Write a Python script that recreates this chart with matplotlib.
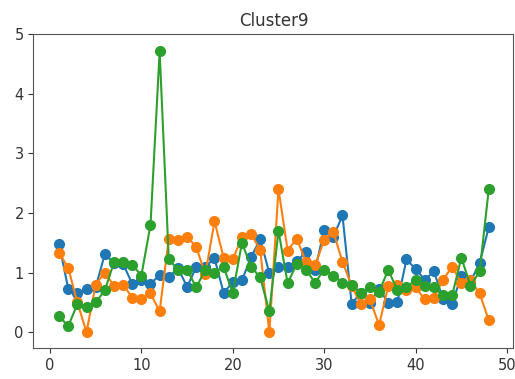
import numpy as np
import matplotlib
matplotlib.use("Agg")
import matplotlib.pyplot as plt

# values per position for the three series
x = np.arange(1, 49)
blue = [1.48, 0.73, 0.65, 0.73, 0.75, 1.31, 1.16, 1.15, 0.81, 0.88,
        0.81, 0.96, 0.92, 1.08, 0.76, 1.09, 1.10, 1.24, 0.66, 0.84,
        0.87, 1.26, 1.56, 0.99, 1.09, 1.09, 1.19, 1.34, 1.04, 1.72,
        1.60, 1.96, 0.48, 0.66, 0.49, 0.73, 0.49, 0.50, 1.22, 1.06,
        0.88, 1.02, 0.56, 0.48, 0.95, 0.85, 1.16, 1.76]
orange = [1.33, 1.08, 0.50, 0.00, 0.80, 1.00, 0.78, 0.80, 0.58, 0.55,
          0.65, 0.35, 1.57, 1.55, 1.60, 1.43, 0.97, 1.86, 1.25, 1.22,
          1.60, 1.65, 1.38, 0.00, 2.40, 1.37, 1.57, 1.18, 1.12, 1.55,
          1.68, 1.18, 0.78, 0.47, 0.55, 0.12, 0.77, 0.80, 0.70, 0.75,
          0.55, 0.58, 0.88, 1.10, 0.82, 0.87, 0.65, 0.20]
green = [0.27, 0.10, 0.47, 0.43, 0.50, 0.70, 1.17, 1.17, 1.13, 0.95,
         1.80, 4.71, 1.22, 1.05, 1.05, 0.75, 1.05, 1.00, 1.10, 0.65,
         1.50, 1.10, 0.92, 0.35, 1.70, 0.82, 1.15, 1.05, 0.83, 1.05,
         0.95, 0.83, 0.80, 0.65, 0.75, 0.67, 1.05, 0.70, 0.75, 0.88,
         0.77, 0.75, 0.62, 0.62, 1.25, 0.78, 1.02, 2.40]

fig = plt.figure(figsize=(5.15, 3.79), dpi=100)
ax = fig.add_axes([0.065, 0.081, 0.932, 0.829])

for s in (blue, orange, green):
    ax.plot(x, s, marker="o", markersize=7, linewidth=1.5)

ax.set_xlim(-1.8, 50.7)
ax.set_ylim(-0.27, 5)
ax.set_xticks([0, 10, 20, 30, 40, 50])
ax.set_yticks([0, 1, 2, 3, 4, 5])
ax.tick_params(labelsize=10.5, colors="#333333")
for sp in ax.spines.values():
    sp.set_color("#555555")
ax.set_title("Cluster9", fontsize=12, color="#333333")

fig.savefig("out.png", dpi=100)
